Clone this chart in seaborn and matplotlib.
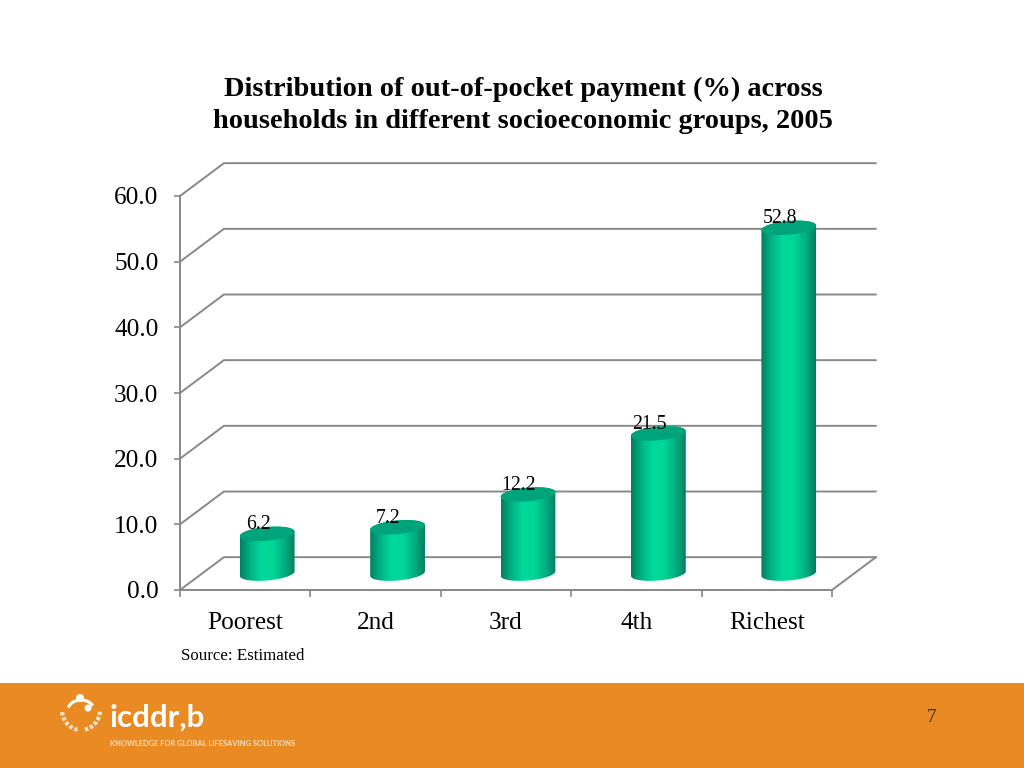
import numpy as np
import matplotlib
matplotlib.use('Agg')
import matplotlib.pyplot as plt
import seaborn as sns
from matplotlib.colors import LinearSegmentedColormap
from matplotlib.patches import Rectangle, Polygon, Arc, Circle

# Chart data
categories = ['Poorest', '2nd', '3rd', '4th', 'Richest']
values = [6.2, 7.2, 12.2, 21.5, 52.8]
y_ticks = [0, 10, 20, 30, 40, 50, 60]

sns.set_theme(style='white')
plt.rcParams['font.family'] = ['Liberation Serif', 'DejaVu Serif']

GREY = '#888888'
fig = plt.figure(figsize=(10.24, 7.68), dpi=100)

# background layer in pixel coordinates (footer and logo)
bg = fig.add_axes([0, 0, 1, 1], zorder=0)
bg.set_xlim(0, 1024)
bg.set_ylim(768, 0)
bg.axis('off')
bg.add_patch(Rectangle((0, 683), 1024, 85, color='#EA8A22', lw=0))

# logo emblem
bg.add_patch(Circle((80, 698), 4, color='white', lw=0))
bg.add_patch(Circle((88, 708), 3.5, color='white', lw=0))
bg.add_patch(Arc((81, 710), 26, 20, theta1=190, theta2=340, color='white', lw=2.2))
bg.add_patch(Arc((81, 710), 38, 40, theta1=5, theta2=80, color='#FBE6CC', lw=3.0, ls=(0, (0.8, 0.5))))
bg.add_patch(Arc((81, 710), 38, 40, theta1=100, theta2=175, color='#FBE6CC', lw=3.0, ls=(0, (0.8, 0.5))))
bg.text(109.5, 727, 'icddr,b', color='white', fontsize=22.6, family='Lato',
        weight='bold', va='baseline', ha='left')
bg.text(110.5, 744, 'KNOWLEDGE FOR GLOBAL LIFESAVING SOLUTIONS', color='#F8DDBB',
        fontsize=5.45, family='Lato', weight='bold', va='center', ha='left')
bg.text(932, 718, '7', color='#333333', fontsize=14, ha='center', va='center')

# Title and source
bg.text(523, 89, 'Distribution of out-of-pocket payment (%) across', fontsize=20.4,
        weight='bold', color='black', ha='center', va='center')
bg.text(523, 121, 'households in different socioeconomic groups, 2005', fontsize=20.4,
        weight='bold', color='black', ha='center', va='center')
bg.text(181, 656, 'Source: Estimated', fontsize=12.2, color='black', ha='left', va='center')

# main axes
ax = fig.add_axes([180 / 1024, 1 - 590 / 768, 652 / 1024, 394 / 768], zorder=1)
ax.patch.set_alpha(0)
sns.barplot(x=categories, y=values, width=0.42, ax=ax, color='#00D696', errorbar=None)

# depth of the fake 3d box, in data units
dx, dy = 0.337, 5.0
xl, xr = -0.5, 4.5
for v in y_ticks:
    ax.plot([xl, xl + dx, xr + dx], [v, v + dy, v + dy], color=GREY, lw=1.4,
            clip_on=False, zorder=1, solid_joinstyle='miter')
ax.plot([xr, xr + dx], [0, dy], color=GREY, lw=1.4, clip_on=False, zorder=1)

# turn the flat bars into cylinders
side = LinearSegmentedColormap.from_list('side', ['#007F60', '#00B585', '#00D99A',
                                                  '#00D696', '#00B283', '#007E5E'])
grad = np.linspace(0, 1, 256).reshape(1, -1)
a_bar = 0.21
b_bar, tilt = 1.05, 0.35
t = np.linspace(0, 2 * np.pi, 120)
bars = [p for p in ax.patches]
for bar, val in zip(bars, values):
    cx = bar.get_x() + bar.get_width() / 2 + dx / 2
    y0 = dy / 2
    y1 = val + dy / 2 - 0.15
    bar.set_visible(False)

    # outline: lower half of the bottom ellipse, upper half of the top one
    tb = t[(t >= np.pi)]
    tt = t[(t <= np.pi)]
    xs = np.r_[cx + a_bar * np.cos(tb), cx + a_bar * np.cos(tt)]
    ys = np.r_[y0 + b_bar * np.sin(tb) + tilt * np.cos(tb),
               y1 + b_bar * np.sin(tt) + tilt * np.cos(tt)]
    body = Polygon(np.c_[xs, ys], closed=True, transform=ax.transData, fc='none', lw=0)
    ax.add_patch(body)
    body.set_clip_on(False)
    im = ax.imshow(grad, extent=[cx - a_bar, cx + a_bar, y0 - 3, y1 + 3], cmap=side,
                   aspect='auto', zorder=3)
    im.set_clip_path(body)

    ax.fill(cx + a_bar * np.cos(t), y1 + b_bar * np.sin(t) + tilt * np.cos(t),
            color='#00A47A', lw=0, zorder=4, clip_on=False)
    ax.text(cx - 0.07, y1 + 1.35, f'{val:.1f}', fontsize=14.2, color='black',
            ha='center', va='center', zorder=5)

ax.set_xlim(xl, xr)
ax.set_ylim(0, 60)
ax.set_yticks(y_ticks)
ax.set_yticklabels([f'{v:.1f}' for v in y_ticks])
ax.set_xticks(range(len(categories)))
ax.set_xticklabels(categories)
ax.set_xticks(np.arange(xl, xr + 1), minor=True)
ax.tick_params(axis='x', which='major', length=0, pad=16, labelsize=18.2, labelcolor='black')
ax.tick_params(axis='x', which='minor', length=5, width=1.2, color=GREY, bottom=True)
ax.tick_params(axis='y', which='major', length=4, width=1.2, color=GREY, left=True, pad=11.5,
               labelsize=18.2, labelcolor='black')
ax.set_xlabel('')
ax.set_ylabel('')
sns.despine(ax=ax, top=True, right=True)
for s in ['left', 'bottom']:
    ax.spines[s].set_color(GREY)
    ax.spines[s].set_linewidth(1.4)

fig.savefig('out.png', dpi=100)
